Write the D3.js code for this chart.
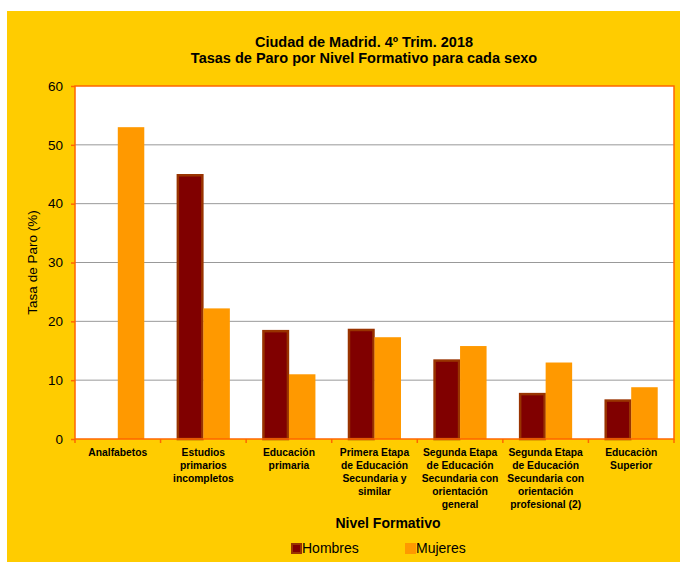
<!DOCTYPE html>
<html>
<head>
<meta charset="utf-8">
<style>
  body { margin: 0; background: #fff; overflow: hidden; }
  svg { display: block; }
  text { font-family: "Liberation Sans", Arial, sans-serif; }
</style>
</head>
<body>
<div id="chart"></div>
<script src="https://d3js.org/d3.v7.min.js"></script>
<script>
// ---- data ----
var categories = [
  ["Analfabetos"],
  ["Estudios", "primarios", "incompletos"],
  ["Educación", "primaria"],
  ["Primera Etapa", "de Educación", "Secundaria y", "similar"],
  ["Segunda Etapa", "de Educación", "Secundaria con", "orientación", "general"],
  ["Segunda Etapa", "de Educación", "Secundaria con", "orientación", "profesional (2)"],
  ["Educaciòn", "Superior"]
];
var hombres = [0, 45.0, 18.5, 18.7, 13.5, 7.8, 6.7];
var mujeres = [53.0, 22.2, 11.0, 17.3, 15.8, 13.0, 8.8];
var yTicks = [0, 10, 20, 30, 40, 50, 60];
var seriesNames = ["Hombres", "Mujeres"];

var W = 680, H = 562;
var plot = { left: 75, top: 86, right: 674, bottom: 439 };

var svg = d3.select("#chart").append("svg")
  .attr("width", W)
  .attr("height", H);

// yellow background
svg.append("rect")
  .attr("x", 7).attr("y", 11)
  .attr("width", W - 7).attr("height", H - 11)
  .attr("fill", "#FFCC00");

// plot area
svg.append("rect")
  .attr("x", plot.left).attr("y", plot.top)
  .attr("width", plot.right - plot.left).attr("height", plot.bottom - plot.top)
  .attr("fill", "#fff");

var x = d3.scaleBand()
  .domain(d3.range(categories.length))
  .range([plot.left, plot.right]);

var y = d3.scaleLinear()
  .domain([0, 60])
  .range([plot.bottom, plot.top]);

// gridlines
svg.append("g")
  .selectAll("line")
  .data(yTicks.filter(function(d) { return d > 0 && d < 60; }))
  .enter().append("line")
  .attr("x1", plot.left).attr("x2", plot.right)
  .attr("y1", function(d) { return y(d); })
  .attr("y2", function(d) { return y(d); })
  .attr("stroke", "#999")
  .attr("stroke-width", 1);

// bars
var barW = 26.5;
var groups = svg.append("g")
  .selectAll("g")
  .data(categories)
  .enter().append("g");

groups.each(function(c, i) {
  var g = d3.select(this);
  var cx = x(i) + x.bandwidth() / 2;
  if (hombres[i] > 0) {
    g.append("rect")
      .attr("x", cx - barW + 1)
      .attr("y", y(hombres[i]) + 1)
      .attr("width", barW - 2)
      .attr("height", y(0) - y(hombres[i]) - 1)
      .attr("fill", "#800000")
      .attr("stroke", "#993300")
      .attr("stroke-width", 2.5);
  }
  g.append("rect")
    .attr("x", cx)
    .attr("y", y(mujeres[i]))
    .attr("width", barW)
    .attr("height", y(0) - y(mujeres[i]))
    .attr("fill", "#FF9900");
});

// plot border
svg.append("rect")
  .attr("x", plot.left).attr("y", plot.top)
  .attr("width", plot.right - plot.left).attr("height", plot.bottom - plot.top)
  .attr("fill", "none")
  .attr("stroke", "#FF6600")
  .attr("stroke-width", 1.5);

// y axis
var yAxis = svg.append("g")
  .attr("transform", "translate(" + plot.left + ",0)")
  .call(d3.axisLeft(y).tickValues(yTicks).tickSize(4).tickPadding(8));
yAxis.select(".domain").remove();
yAxis.selectAll(".tick line").attr("stroke", "#FF6600").attr("stroke-width", 1.5);
yAxis.selectAll(".tick text")
  .attr("fill", "#000")
  .style("font-size", "13.5px")
  .style("font-family", "'Liberation Sans', Arial, sans-serif");

// x axis ticks
var xAxis = svg.append("g")
  .attr("transform", "translate(0," + plot.bottom + ")");
xAxis.selectAll("line")
  .data(d3.range(categories.length + 1))
  .enter().append("line")
  .attr("x1", function(d) { return plot.left + d * x.step(); })
  .attr("x2", function(d) { return plot.left + d * x.step(); })
  .attr("y1", 0).attr("y2", 4)
  .attr("stroke", "#FF6600")
  .attr("stroke-width", 1.5);

// category labels
var labels = svg.append("g")
  .selectAll("text")
  .data(categories)
  .enter().append("text")
  .attr("text-anchor", "middle")
  .attr("font-size", "10.3px")
  .attr("font-weight", "bold")
  .attr("fill", "#000")
  .attr("x", function(d, i) { return x(i) + x.bandwidth() / 2; })
  .attr("y", 456);
labels.selectAll("tspan")
  .data(function(d) { return d; })
  .enter().append("tspan")
  .attr("x", function() { return d3.select(this.parentNode).attr("x"); })
  .attr("dy", function(d, j) { return j === 0 ? 0 : 12.9; })
  .text(function(d) { return d; });

// titles
svg.append("text")
  .attr("x", 364).attr("y", 47)
  .attr("text-anchor", "middle")
  .attr("font-size", "14.5px").attr("font-weight", "bold")
  .text("Ciudad de Madrid. 4º Trim. 2018");
svg.append("text")
  .attr("x", 364).attr("y", 62.5)
  .attr("text-anchor", "middle")
  .attr("font-size", "14.5px").attr("font-weight", "bold")
  .text("Tasas de Paro por Nivel Formativo para cada sexo");

svg.append("text")
  .attr("transform", "translate(37," + ((plot.top + plot.bottom) / 2) + ") rotate(-90)")
  .attr("text-anchor", "middle")
  .attr("font-size", "13.5px")
  .text("Tasa de Paro (%)");

svg.append("text")
  .attr("x", 388).attr("y", 528)
  .attr("text-anchor", "middle")
  .attr("font-size", "14px").attr("font-weight", "bold")
  .text("Nivel Formativo");

// legend
var legendX = [291, 405];
var legend = svg.append("g")
  .selectAll("g")
  .data(seriesNames)
  .enter().append("g")
  .attr("transform", function(d, i) { return "translate(" + legendX[i] + ",543)"; });
legend.append("rect")
  .attr("x", function(d, i) { return i === 0 ? 1 : 0; })
  .attr("y", function(d, i) { return i === 0 ? 1 : 0; })
  .attr("width", function(d, i) { return i === 0 ? 9 : 11; })
  .attr("height", function(d, i) { return i === 0 ? 9 : 11; })
  .attr("fill", function(d, i) { return i === 0 ? "#800000" : "#FF9900"; })
  .attr("stroke", function(d, i) { return i === 0 ? "#993300" : "none"; })
  .attr("stroke-width", 2);
legend.append("text")
  .attr("x", 11).attr("y", 10)
  .attr("font-size", "14px")
  .text(function(d) { return d; });
</script>
</body>
</html>
